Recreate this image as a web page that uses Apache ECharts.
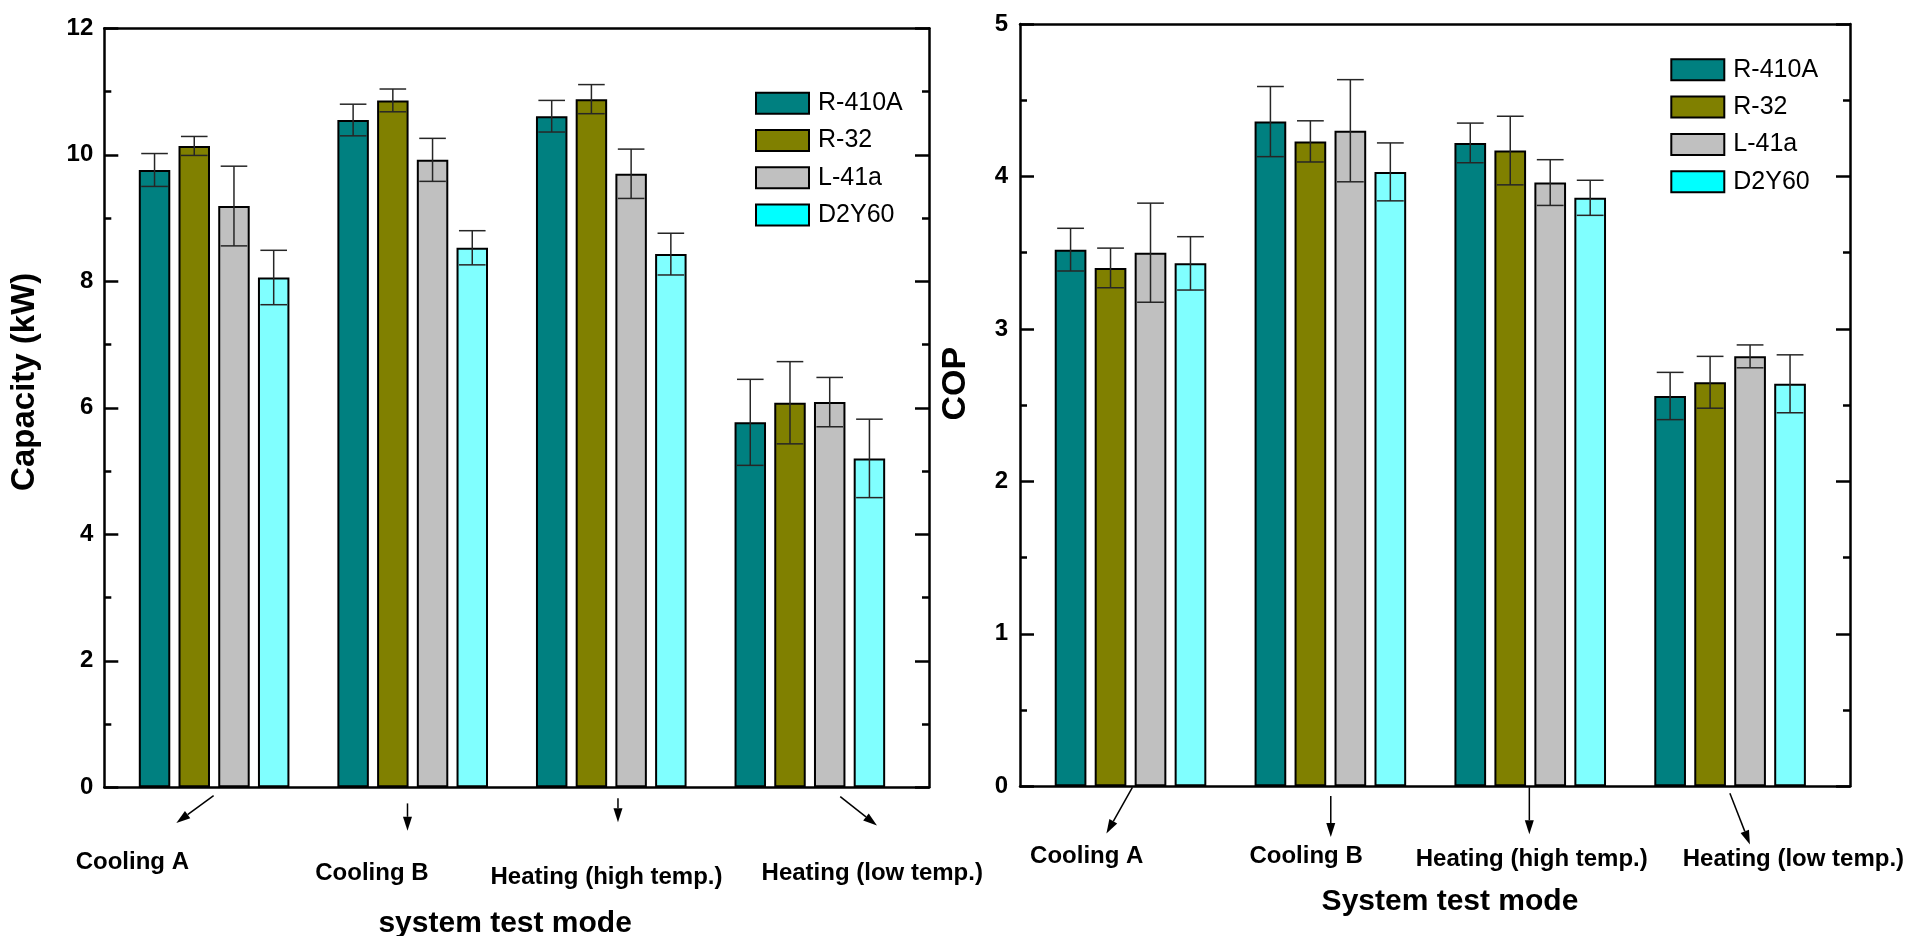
<!DOCTYPE html>
<html>
<head>
<meta charset="utf-8">
<title>Capacity and COP by system test mode</title>
<script src="https://cdn.jsdelivr.net/npm/echarts@6/dist/echarts.min.js"></script>
<style>
  html, body { margin: 0; padding: 0; background: #ffffff; }
  #chart { width: 1908px; height: 936px; }
</style>
</head>
<body>
<div id="chart"></div>
<script>
// ---------------- data ----------------
const modes = ['Cooling A', 'Cooling B', 'Heating (high temp.)', 'Heating (low temp.)'];
const refrigerants = ['R-410A', 'R-32', 'L-41a', 'D2Y60'];

// Capacity (kW), one array per refrigerant, in the order of `modes`
const capR410A = [9.76, 10.55, 10.61, 5.77];
const capR32   = [10.14, 10.86, 10.88, 6.08];
const capL41a  = [9.19, 9.92, 9.70, 6.09];
const capD2Y60 = [8.06, 8.53, 8.43, 5.20];
// capacity uncertainty (± kW)
const capErrR410A = [0.26, 0.25, 0.25, 0.68];
const capErrR32   = [0.15, 0.18, 0.23, 0.65];
const capErrL41a  = [0.63, 0.34, 0.39, 0.39];
const capErrD2Y60 = [0.43, 0.27, 0.33, 0.62];

// COP, one array per refrigerant
const copR410A = [3.52, 4.36, 4.22, 2.56];
const copR32   = [3.40, 4.23, 4.17, 2.65];
const copL41a  = [3.50, 4.30, 3.96, 2.82];
const copD2Y60 = [3.43, 4.03, 3.86, 2.64];
// COP uncertainty (±)
const copErrR410A = [0.14, 0.23, 0.13, 0.155];
const copErrR32   = [0.13, 0.135, 0.225, 0.17];
const copErrL41a  = [0.325, 0.335, 0.15, 0.075];
const copErrD2Y60 = [0.175, 0.19, 0.115, 0.19];

// y tick labels
const capTicks = [0, 2, 4, 6, 8, 10, 12];
const copTicks = [0, 1, 2, 3, 4, 5];

// ---------------- styling / layout ----------------
const FONT = '"Liberation Sans", Arial, Helvetica, sans-serif';
const FILL = ['#008080', '#808000', '#c0c0c0', '#80ffff'];
const SWATCH = ['#008080', '#808000', '#c0c0c0', '#00ffff'];
const X_MIN = 0.447, X_MAX = 4.6;   // x extent, groups sit at 1..4
const BAR_W = 0.1585;               // bar width in x units
const BAR_STEP = 0.2;               // centre distance of neighbouring bars
const CAP_W = 0.134;                // error-bar cap width in x units
const AXIS_W = 2.5;

// pixel offsets of the mode labels and pointer arrows, relative to
// the group centre on the zero line: label [dx, dy], arrow [x1, y1, x2, y2]
const capCallouts = [
  { label: [-81.8, 74.7], arrow: [-0.5, 8.3, -37.8, 35.6] },
  { label: [-40.8, 85.7], arrow: [-5.2, 16.1, -5.2, 43.5] },
  { label: [-4.8, 89.7],  arrow: [6.7, 11, 6.7, 34.9] },
  { label: [62.4, 86.2],  arrow: [30.4, 9.3, 67.1, 38.3] }
];
const copCallouts = [
  { label: [-43.8, 70.5], arrow: [1.9, 1.1, -24.1, 47.2] },
  { label: [-24.3, 69.7], arrow: [0.4, 9.7, 0.4, 50.7] },
  { label: [1.5, 73.2],   arrow: [-0.9, 1.1, -0.9, 47.9] },
  { label: [63.3, 73.2],  arrow: [-0.2, 6.9, 19.8, 58.1] }
];

const panels = [
  {
    values: [capR410A, capR32, capL41a, capD2Y60],
    errors: [capErrR410A, capErrR32, capErrL41a, capErrD2Y60],
    ticks: capTicks,
    yName: 'Capacity (kW)', xName: 'system test mode',
    grid: { left: 104.3, top: 28.3, width: 824.7, height: 759 },
    yNameGap: 62.5, yNameSize: 33, yNamePad: [0, 0, 0, 52],
    xNameGap: 121, xNamePad: [0, 23, 0, 0],
    labelMargin: 11,
    legendPos: { left: 755, top: 90.7 },
    callouts: capCallouts
  },
  {
    values: [copR410A, copR32, copL41a, copD2Y60],
    errors: [copErrR410A, copErrR32, copErrL41a, copErrD2Y60],
    ticks: copTicks,
    yName: 'COP', xName: 'System test mode',
    grid: { left: 1020, top: 24, width: 830, height: 762.3 },
    yNameGap: 47.8, yNameSize: 34, yNamePad: [0, 0, 0, 43],
    xNameGap: 100, xNamePad: [0, 0, 0, 30],
    labelMargin: 12,
    legendPos: { left: 1670.3, top: 57.3 },
    callouts: copCallouts
  }
];

// ---------------- renderers ----------------
function renderErrorBar(params, api) {
  const x = api.value(0) + (api.value(3) - 1.5) * BAR_STEP;
  const v = api.value(1), e = api.value(2);
  const hi = api.coord([x, v + e]);
  const lo = api.coord([x, v - e]);
  const half = api.size([CAP_W, 0])[0] / 2;
  const style = { stroke: '#262626', lineWidth: 1.5 };
  return {
    type: 'group',
    children: [
      { type: 'line', shape: { x1: hi[0], y1: hi[1], x2: lo[0], y2: lo[1] }, style: style },
      { type: 'line', shape: { x1: hi[0] - half, y1: hi[1], x2: hi[0] + half, y2: hi[1] }, style: style },
      { type: 'line', shape: { x1: lo[0] - half, y1: lo[1], x2: lo[0] + half, y2: lo[1] }, style: style }
    ]
  };
}

function calloutRenderer(layout) {
  return function (params, api) {
    const i = api.value(2);
    const c = layout[i];
    const base = api.coord([api.value(0), api.value(1)]);
    const x1 = base[0] + c.arrow[0], y1 = base[1] + c.arrow[1];
    const x2 = base[0] + c.arrow[2], y2 = base[1] + c.arrow[3];
    const ang = Math.atan2(y2 - y1, x2 - x1);
    const headLen = 14, headHalf = 4.5;
    const bx = x2 - headLen * Math.cos(ang), by = y2 - headLen * Math.sin(ang);
    const px = -Math.sin(ang) * headHalf, py = Math.cos(ang) * headHalf;
    return {
      type: 'group',
      children: [
        { type: 'line', shape: { x1: x1, y1: y1, x2: bx, y2: by }, style: { stroke: '#000', lineWidth: 1.5 } },
        { type: 'polygon', shape: { points: [[x2, y2], [bx + px, by + py], [bx - px, by - py]] }, style: { fill: '#000' } },
        {
          type: 'text', x: base[0] + c.label[0], y: base[1] + c.label[1],
          style: { text: modes[i], font: 'bold 24px ' + FONT, fill: '#000', align: 'center', verticalAlign: 'middle' }
        }
      ]
    };
  };
}

// ---------------- option ----------------
const option = {
  animation: false,
  backgroundColor: '#ffffff',
  grid: panels.map(p => Object.assign({ outerBoundsMode: 'none', containLabel: false }, p.grid)),
  xAxis: [],
  yAxis: [],
  legend: [],
  series: []
};

const axisLineStyle = { show: true, onZero: false, lineStyle: { color: '#000', width: AXIS_W } };

panels.forEach((p, g) => {
  const xi = option.xAxis.length;
  option.xAxis.push({
    type: 'value', gridIndex: g, position: 'bottom', min: X_MIN, max: X_MAX,
    name: p.xName, nameLocation: 'middle', nameGap: p.xNameGap, nameMoveOverlap: false,
    nameTextStyle: { fontFamily: FONT, fontWeight: 'bold', fontSize: 30, color: '#000', padding: p.xNamePad },
    axisLine: axisLineStyle, axisTick: { show: false }, axisLabel: { show: false }, splitLine: { show: false }
  });
  option.xAxis.push({
    type: 'value', gridIndex: g, position: 'top', min: X_MIN, max: X_MAX,
    axisLine: axisLineStyle, axisTick: { show: false }, axisLabel: { show: false }, splitLine: { show: false }
  });

  const yi = option.yAxis.length;
  ['left', 'right'].forEach(side => {
    const isLeft = side === 'left';
    option.yAxis.push({
      type: 'value', gridIndex: g, position: side,
      min: p.ticks[0], max: p.ticks[p.ticks.length - 1], interval: p.ticks[1] - p.ticks[0],
      name: isLeft ? p.yName : '', nameLocation: 'middle', nameRotate: 90, nameGap: p.yNameGap,
      nameMoveOverlap: false,
      nameTextStyle: { fontFamily: FONT, fontWeight: 'bold', fontSize: p.yNameSize, color: '#000', padding: p.yNamePad },
      axisLine: axisLineStyle,
      axisTick: { show: true, inside: true, length: 14, lineStyle: { color: '#000', width: AXIS_W } },
      minorTick: { show: true, splitNumber: 2, length: 7, lineStyle: { color: '#000', width: AXIS_W } },
      axisLabel: { show: isLeft, margin: p.labelMargin, fontFamily: FONT, fontWeight: 'bold', fontSize: 24, color: '#000' },
      splitLine: { show: false }, minorSplitLine: { show: false }
    });
  });

  refrigerants.forEach((name, k) => {
    option.series.push({
      type: 'bar', name: name, xAxisIndex: xi, yAxisIndex: yi,
      barWidth: (BAR_W * 100) + '%',
      barGap: ((BAR_STEP - BAR_W) / BAR_W * 100) + '%',
      itemStyle: { color: FILL[k], borderColor: '#000', borderWidth: 2 },
      emphasis: { disabled: true },
      data: modes.map((m, i) => [i + 1, p.values[k][i]])
    });
  });

  const errRows = [];
  refrigerants.forEach((name, k) => {
    modes.forEach((m, i) => errRows.push([i + 1, p.values[k][i], p.errors[k][i], k]));
  });
  option.series.push({
    type: 'custom', name: 'uncertainty', xAxisIndex: xi, yAxisIndex: yi, z: 4, silent: true, clip: false,
    renderItem: renderErrorBar, encode: { x: 0, y: 1 }, data: errRows
  });

  option.series.push({
    type: 'custom', name: 'mode labels', xAxisIndex: xi, yAxisIndex: yi, z: 4, silent: true, clip: false,
    renderItem: calloutRenderer(p.callouts), encode: { x: 0, y: 1 },
    data: modes.map((m, i) => [i + 1, 0, i])
  });

  option.legend.push({
    orient: 'vertical', left: p.legendPos.left, top: p.legendPos.top, padding: 0,
    itemWidth: 53, itemHeight: 21, itemGap: 12.3, icon: 'rect', selectedMode: false,
    itemStyle: { borderColor: '#000', borderWidth: 2 },
    textStyle: { fontFamily: FONT, fontSize: 25, color: '#000', lineHeight: 23, padding: [0, 0, 0, 4] },
    data: refrigerants.map((name, k) => ({ name: name, itemStyle: { color: SWATCH[k] } }))
  });
});

const chart = echarts.init(document.getElementById('chart'), null, { renderer: 'canvas' });
chart.setOption(option);
</script>
</body>
</html>
